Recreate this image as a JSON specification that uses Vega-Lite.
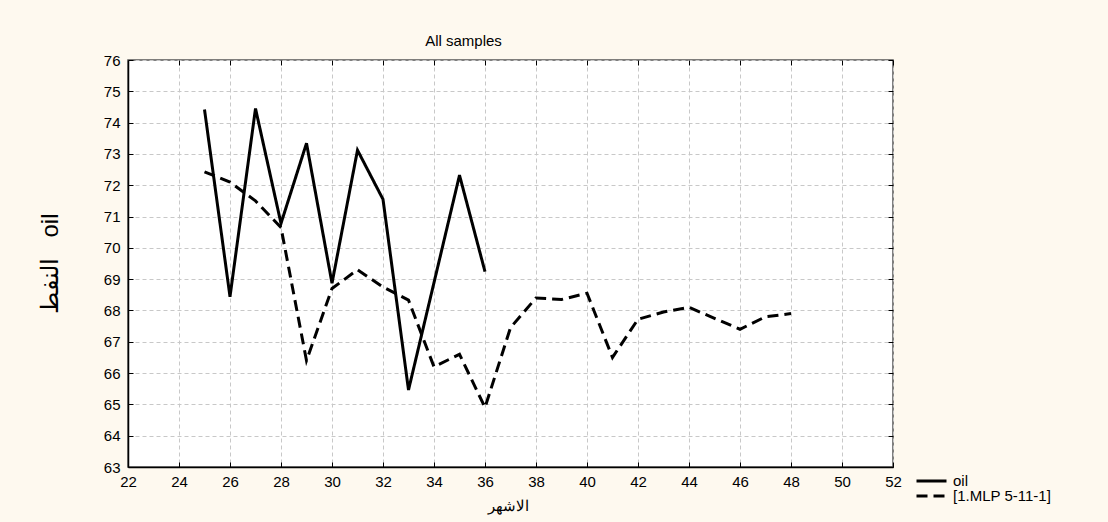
{
  "$schema": "https://vega.github.io/schema/vega-lite/v6.json",
  "autosize": {"type": "none"},
  "padding": {"left": 128, "top": 60, "right": 215, "bottom": 55},
  "width": 765,
  "height": 407,
  "background": "#fef9ef",
  "title": {
    "text": "All samples",
    "anchor": "middle",
    "dx": -47,
    "offset": -8,
    "baseline": "alphabetic",
    "font": "Liberation Sans",
    "fontSize": 15,
    "fontWeight": "normal",
    "color": "#000000"
  },
  "config": {
    "view": {"stroke": "#555555", "strokeWidth": 1.5, "fill": "#ffffff"},
    "axis": {
      "labelFont": "Liberation Sans",
      "labelFontSize": 15,
      "labelColor": "#000000",
      "titleFont": "Liberation Sans",
      "titleColor": "#000000",
      "titleFontWeight": "normal",
      "gridColor": "#c8c8c8",
      "gridDash": [4, 3],
      "gridWidth": 1,
      "tickColor": "#000000",
      "tickWidth": 1,
      "domainColor": "#000000",
      "domainWidth": 1.5
    }
  },
  "data": {
    "values": [
      {"month": 25, "value": 74.42, "series": "oil"},
      {"month": 26, "value": 68.44, "series": "oil"},
      {"month": 27, "value": 74.45, "series": "oil"},
      {"month": 28, "value": 70.78, "series": "oil"},
      {"month": 29, "value": 73.34, "series": "oil"},
      {"month": 30, "value": 68.87, "series": "oil"},
      {"month": 31, "value": 73.12, "series": "oil"},
      {"month": 32, "value": 71.55, "series": "oil"},
      {"month": 33, "value": 65.46, "series": "oil"},
      {"month": 35, "value": 72.32, "series": "oil"},
      {"month": 36, "value": 69.24, "series": "oil"},
      {"month": 25, "value": 72.43, "series": "[1.MLP 5-11-1]"},
      {"month": 26, "value": 72.1, "series": "[1.MLP 5-11-1]"},
      {"month": 27, "value": 71.5, "series": "[1.MLP 5-11-1]"},
      {"month": 28, "value": 70.65, "series": "[1.MLP 5-11-1]"},
      {"month": 29, "value": 66.4, "series": "[1.MLP 5-11-1]"},
      {"month": 30, "value": 68.7, "series": "[1.MLP 5-11-1]"},
      {"month": 31, "value": 69.3, "series": "[1.MLP 5-11-1]"},
      {"month": 32, "value": 68.75, "series": "[1.MLP 5-11-1]"},
      {"month": 33, "value": 68.33, "series": "[1.MLP 5-11-1]"},
      {"month": 34, "value": 66.2, "series": "[1.MLP 5-11-1]"},
      {"month": 35, "value": 66.6, "series": "[1.MLP 5-11-1]"},
      {"month": 36, "value": 64.9, "series": "[1.MLP 5-11-1]"},
      {"month": 37, "value": 67.45, "series": "[1.MLP 5-11-1]"},
      {"month": 38, "value": 68.4, "series": "[1.MLP 5-11-1]"},
      {"month": 39, "value": 68.35, "series": "[1.MLP 5-11-1]"},
      {"month": 40, "value": 68.55, "series": "[1.MLP 5-11-1]"},
      {"month": 41, "value": 66.5, "series": "[1.MLP 5-11-1]"},
      {"month": 42, "value": 67.72, "series": "[1.MLP 5-11-1]"},
      {"month": 43, "value": 67.95, "series": "[1.MLP 5-11-1]"},
      {"month": 44, "value": 68.1, "series": "[1.MLP 5-11-1]"},
      {"month": 45, "value": 67.75, "series": "[1.MLP 5-11-1]"},
      {"month": 46, "value": 67.4, "series": "[1.MLP 5-11-1]"},
      {"month": 47, "value": 67.8, "series": "[1.MLP 5-11-1]"},
      {"month": 48, "value": 67.9, "series": "[1.MLP 5-11-1]"}
    ]
  },
  "resolve": {"axis": {"x": "independent", "y": "independent"}},
  "layer": [
    {
      "mark": {"type": "line", "strokeWidth": 3, "color": "#000000", "strokeJoin": "miter", "strokeCap": "butt"},
      "encoding": {
        "x": {
          "field": "month",
          "type": "quantitative",
          "scale": {"domain": [22, 52], "nice": false, "zero": false},
          "axis": {
            "values": [22, 24, 26, 28, 30, 32, 34, 36, 38, 40, 42, 44, 46, 48, 50, 52],
            "tickSize": -5,
            "labelPadding": 12,
            "labelFlush": false,
            "title": "الاشهر",
            "titleFontSize": 15,
            "titleX": 380,
            "titleY": 38,
            "titleAlign": "center",
            "titleBaseline": "middle"
          }
        },
        "y": {
          "field": "value",
          "type": "quantitative",
          "scale": {"domain": [63, 76], "nice": false, "zero": false},
          "axis": {
            "values": [63, 64, 65, 66, 67, 68, 69, 70, 71, 72, 73, 74, 75, 76],
            "tickSize": -5,
            "labelPadding": 13,
            "labelFlush": false,
            "title": "النفط\u00a0\u00a0\u00a0oil",
            "titleFontSize": 24,
            "titleAngle": -90,
            "titleX": -78,
            "titleY": 203,
            "titleAlign": "center",
            "titleBaseline": "middle"
          }
        },
        "detail": {"field": "series"},
        "strokeDash": {
          "field": "series",
          "type": "nominal",
          "scale": {"domain": ["oil", "[1.MLP 5-11-1]"], "range": [[1, 0], [11, 6]]},
          "legend": {
            "title": null,
            "orient": "none",
            "legendX": 787,
            "legendY": 414,
            "symbolType": "stroke",
            "symbolSize": 900,
            "symbolStrokeWidth": 3,
            "symbolStrokeColor": "#000000",
            "labelFont": "Liberation Sans",
            "labelFontSize": 15,
            "labelColor": "#000000",
            "labelOffset": 5,
            "rowPadding": 0,
            "clipHeight": 14
          }
        }
      }
    },
    {
      "mark": {"type": "point", "opacity": 0},
      "encoding": {
        "x": {
          "field": "month",
          "type": "quantitative",
          "scale": {"domain": [22, 52], "nice": false, "zero": false},
          "axis": {
            "orient": "top",
            "values": [22, 24, 26, 28, 30, 32, 34, 36, 38, 40, 42, 44, 46, 48, 50, 52],
            "tickSize": -5,
            "labels": false,
            "grid": false,
            "domain": false,
            "title": null
          }
        },
        "y": {
          "field": "value",
          "type": "quantitative",
          "scale": {"domain": [63, 76], "nice": false, "zero": false},
          "axis": {
            "orient": "right",
            "values": [63, 64, 65, 66, 67, 68, 69, 70, 71, 72, 73, 74, 75, 76],
            "tickSize": -5,
            "labels": false,
            "grid": false,
            "domain": false,
            "title": null
          }
        }
      }
    }
  ]
}
